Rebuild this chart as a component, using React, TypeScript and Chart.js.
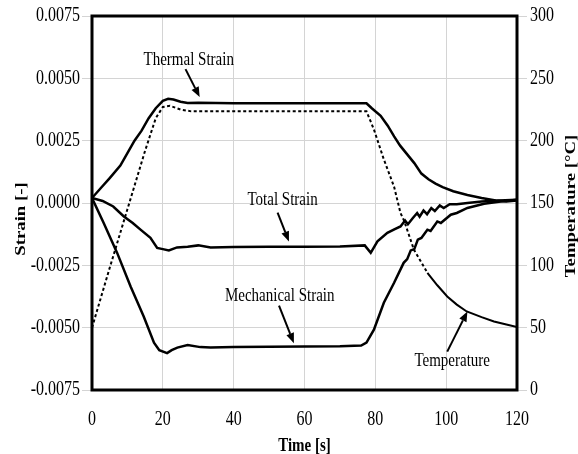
import React, { useEffect, useRef } from "react";
import { Chart, registerables } from "chart.js";

Chart.register(...registerables);

// ---------- data ----------
const thermalTime = [0, 2.5, 5, 8, 10, 12, 14, 16, 18, 20, 21.5, 23, 25, 27, 30, 40, 50, 60, 70, 77.5, 79, 81.5, 83.5, 85.3, 87, 89, 91, 93, 95, 97, 99, 102, 106, 110, 114, 117, 120];
const thermalStrain = [0.0002, 0.0006, 0.001, 0.0015, 0.002, 0.0025, 0.0029, 0.0034, 0.0038, 0.0041, 0.00418, 0.00415, 0.00406, 0.00401, 0.00402, 0.004, 0.004, 0.004, 0.004, 0.004, 0.0038, 0.0035, 0.0031, 0.00267, 0.0023, 0.00195, 0.0016, 0.00118, 0.00095, 0.00078, 0.00064, 0.00047, 0.00032, 0.0002, 0.0001, 0.00006, 0.0001];

const totalTime = [0, 3, 6, 9, 11.5, 13.7, 16.5, 18.4, 20, 21.7, 24, 27, 30, 33.5, 40, 50, 60, 70, 77, 78.7, 80.6, 83.4, 85.5, 87.1, 88.4, 89.2, 90.6, 91.8, 92.5, 93.6, 94.6, 95.8, 96.8, 98.2, 99.3, 101, 103, 106, 110, 115, 120];
const totalStrain = [0.0002, 0.00008, -0.00014, -0.00054, -0.0008, -0.00107, -0.0014, -0.0018, -0.00185, -0.0019, -0.00178, -0.00175, -0.0017, -0.00178, -0.00176, -0.00175, -0.00175, -0.00174, -0.0017, -0.002, -0.00154, -0.0012, -0.00105, -0.00094, -0.0007, -0.00085, -0.0006, -0.0004, -0.00055, -0.0003, -0.00045, -0.0002, -0.00032, -0.0001, -0.0002, -0.00005, -0.00005, 0, 0.00006, 0.0001, 0.00013];

const mechTime = [0, 3.3, 7.1, 10.9, 14.6, 17.5, 19, 21.2, 22.5, 24.1, 27, 30.6, 33.5, 40, 50, 60, 70, 76, 77.5, 79.6, 82.4, 85.3, 88, 89, 90, 91, 92, 93, 94.7, 95.6, 97.5, 98.5, 101.3, 103, 106, 110.7, 115.4, 120];
const mechStrain = [0.0002, -0.0008, -0.002, -0.00335, -0.00455, -0.0056, -0.0059, -0.00602, -0.0059, -0.0058, -0.0057, -0.00578, -0.0058, -0.00578, -0.00577, -0.00576, -0.00575, -0.00572, -0.0056, -0.00508, -0.004, -0.0032, -0.0024, -0.00225, -0.0019, -0.00185, -0.00147, -0.0014, -0.00107, -0.00112, -0.00074, -0.0008, -0.00047, -0.0004, -0.0002, -0.00003, 0.00006, 0.00013];

const tempTime = [0, 5, 10, 15, 18, 20, 22, 25, 28, 40, 50, 60, 70, 77.5, 79.6, 82.4, 85.3, 87.1, 88.1, 90.9, 94.7, 97.5, 100.3, 103, 105.8, 110, 113.5, 117, 120];
const temperature = [50, 98, 145, 192, 218, 227, 228, 225, 223.5, 223.5, 223.5, 223.5, 223.5, 223.5, 209, 185, 163, 142, 136, 112.5, 94, 84, 75, 68.5, 63, 58.5, 55, 52.5, 50.5];
const tempDottedUntil = 97;

// annotations (data coordinates: time, strain)
const noteTexts = ["Thermal Strain", "Total Strain", "Mechanical Strain", "Temperature"];
const noteTime = [27.3, 53.8, 53.0, 101.7];
const noteStrain = [0.00575, 0.00013, -0.00372, -0.00636];
const arrowFromTime = [26.4, 52.4, 52.8, 100.3];
const arrowFromStrain = [0.00537, -0.00039, -0.00412, -0.00596];
const arrowToTime = [30.4, 55.6, 57.0, 106.0];
const arrowToStrain = [0.00425, -0.00154, -0.00562, -0.00435];

const xTitle = "Time [s]";
const yTitle = "Strain [-]";
const y1Title = "Temperature [°C]";

const FAMILY = '"Liberation Serif", "Times New Roman", serif';
const STRETCH = 1.25;

const pts = (xs: number[], ys: number[]) => xs.map((x, i) => ({ x, y: ys[i] }));

function drawText(ctx: CanvasRenderingContext2D, text: string, x: number, y: number, font: string, align: CanvasTextAlign, rotate = false) {
  ctx.save();
  ctx.translate(x, y);
  ctx.scale(1, STRETCH);
  if (rotate) ctx.rotate(-Math.PI / 2);
  ctx.font = font;
  ctx.textAlign = align;
  ctx.textBaseline = "middle";
  ctx.fillStyle = "#000";
  ctx.fillText(text, 0, 0);
  ctx.restore();
}

const overlayPlugin = {
  id: "overlay",
  afterDraw(chart: any) {
    const { ctx, chartArea: a, scales } = chart;
    const sx = scales.x, sy = scales.y, sy1 = scales.y1;
    ctx.save();
    // frame
    ctx.strokeStyle = "#000";
    ctx.lineWidth = 3;
    ctx.strokeRect(a.left, a.top, a.right - a.left, a.bottom - a.top);

    // tick labels (from the scales' own ticks)
    const tickFont = `16px ${FAMILY}`;
    sy.ticks.forEach((t: any) => drawText(ctx, String(t.label), a.left - 12, sy.getPixelForValue(t.value), tickFont, "right"));
    sy1.ticks.forEach((t: any) => drawText(ctx, String(t.label), a.right + 13, sy1.getPixelForValue(t.value), tickFont, "left"));
    sx.ticks.forEach((t: any) => drawText(ctx, String(t.label), sx.getPixelForValue(t.value), a.bottom + 30, tickFont, "center"));

    // axis titles
    const titleFont = `bold 15px ${FAMILY}`;
    drawText(ctx, xTitle, (a.left + a.right) / 2, a.bottom + 56, titleFont, "center");
    drawText(ctx, yTitle, 21, (a.top + a.bottom) / 2 + 16, titleFont, "center", true);
    drawText(ctx, y1Title, 571, (a.top + a.bottom) / 2 + 3, titleFont, "center", true);

    // annotations
    const noteFont = `15px ${FAMILY}`;
    noteTexts.forEach((txt, i) => {
      drawText(ctx, txt, sx.getPixelForValue(noteTime[i]), sy.getPixelForValue(noteStrain[i]), noteFont, "center");
      const x0 = sx.getPixelForValue(arrowFromTime[i]);
      const y0 = sy.getPixelForValue(arrowFromStrain[i]);
      const x1 = sx.getPixelForValue(arrowToTime[i]);
      const y1 = sy.getPixelForValue(arrowToStrain[i]);
      const ang = Math.atan2(y1 - y0, x1 - x0);
      const hl = 10, hw = 4;
      const bx = x1 - hl * Math.cos(ang), by = y1 - hl * Math.sin(ang);
      ctx.strokeStyle = "#000";
      ctx.lineWidth = 2;
      ctx.beginPath();
      ctx.moveTo(x0, y0);
      ctx.lineTo(bx, by);
      ctx.stroke();
      ctx.fillStyle = "#000";
      ctx.beginPath();
      ctx.moveTo(x1, y1);
      ctx.lineTo(bx + hw * Math.sin(ang), by - hw * Math.cos(ang));
      ctx.lineTo(bx - hw * Math.sin(ang), by + hw * Math.cos(ang));
      ctx.closePath();
      ctx.fill();
    });
    ctx.restore();
  },
};

export default function App() {
  const ref = useRef<HTMLCanvasElement | null>(null);
  useEffect(() => {
    document.body.style.margin = "0";
    const canvas = ref.current;
    if (!canvas) return;
    const grid = "#d4d4d4";
    const chart = new Chart(canvas, {
      type: "line",
      data: {
        datasets: [
          { label: "Thermal Strain", data: pts(thermalTime, thermalStrain), yAxisID: "y" },
          { label: "Total Strain", data: pts(totalTime, totalStrain), yAxisID: "y" },
          { label: "Mechanical Strain", data: pts(mechTime, mechStrain), yAxisID: "y" },
          {
            label: "Temperature",
            data: pts(tempTime, temperature),
            yAxisID: "y1",
            borderWidth: 2,
            segment: {
              borderDash: (c: any) => (c.p1.parsed.x <= tempDottedUntil ? [3, 2.5] : undefined),
            },
          },
        ],
      },
      options: {
        animation: false,
        responsive: false,
        maintainAspectRatio: false,
        layout: { padding: { top: 16, left: 0, right: 0, bottom: 0 } },
        plugins: { legend: { display: false }, tooltip: { enabled: false } },
        elements: {
          point: { radius: 0 },
          line: { tension: 0, borderWidth: 2.5, borderColor: "#000", fill: false },
        },
        scales: {
          x: {
            type: "linear",
            min: 0,
            max: 120,
            ticks: { stepSize: 20, display: false },
            grid: { color: grid, lineWidth: 1, drawTicks: false },
            border: { display: false },
            afterFit: (s: any) => { s.height = 64; },
          },
          y: {
            type: "linear",
            position: "left",
            min: -0.0075,
            max: 0.0075,
            ticks: {
              stepSize: 0.0025,
              display: false,
              callback: (v: any) => (Math.abs(Number(v)) < 1e-9 ? 0 : Number(v)).toFixed(4),
            },
            grid: { color: grid, lineWidth: 1, tickLength: 10 },
            border: { display: false },
            afterFit: (s: any) => { s.width = 92; },
          },
          y1: {
            type: "linear",
            position: "right",
            min: 0,
            max: 300,
            ticks: { stepSize: 50, display: false },
            grid: { color: grid, lineWidth: 1, tickLength: 10, drawOnChartArea: false },
            border: { display: false },
            afterFit: (s: any) => { s.width = 61; },
          },
        },
      },
      plugins: [overlayPlugin],
    } as any);
    return () => chart.destroy();
  }, []);
  return (
    <div style={{ width: 578, height: 454, background: "#fff" }}>
      <canvas ref={ref} width={578} height={454} />
    </div>
  );
}
